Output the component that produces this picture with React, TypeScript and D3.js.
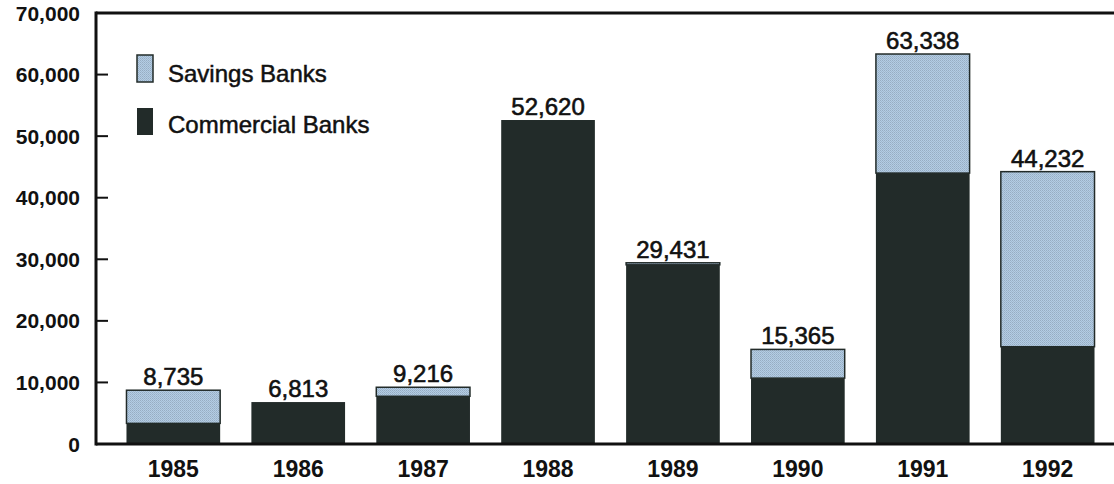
import React from "react";
import * as d3 from "d3";

const years = ["1985", "1986", "1987", "1988", "1989", "1990", "1991", "1992"];
const totals = [8735, 6813, 9216, 52620, 29431, 15365, 63338, 44232];
const commercial = [3350, 6813, 7750, 52620, 29100, 10700, 44000, 15800];
const yTicks = [0, 10000, 20000, 30000, 40000, 50000, 60000, 70000];
const seriesNames = ["Savings Banks", "Commercial Banks"];

const W = 1114;
const H = 484;
const DARK = "#222b29";
const FONT = "'Liberation Sans', Arial, Helvetica, sans-serif";

export default function App() {
  const left = 96;
  const right = 1114;
  const top = 13;
  const bottom = 444;
  const x = d3
    .scaleBand<string>()
    .domain(years)
    .range([left, right])
    .paddingInner(0.25)
    .paddingOuter(0.2)
    .align(0.61);
  const y = d3.scaleLinear().domain([0, 70000]).range([bottom, top]);
  const fmt = d3.format(",");

  return (
    <svg
      width={W}
      height={H}
      style={{ position: "absolute", left: 0, top: 0, display: "block", background: "#fff" }}
      fontFamily={FONT}
    >
      <defs>
        <pattern id="dots" width="2" height="2" patternUnits="userSpaceOnUse">
          <rect width="2" height="2" fill="#b2cde6" />
          <rect x="0" y="0" width="1" height="1" fill="#98adc2" />
          <rect x="1" y="1" width="1" height="1" fill="#a3b8cc" />
        </pattern>
      </defs>

      {/* bars */}
      {years.map((yr, i) => {
        const bx = x(yr)!;
        const bw = x.bandwidth();
        const c = commercial[i];
        const t = totals[i];
        return (
          <g key={yr}>
            {t > c && (
              <rect
                x={bx}
                y={y(t)}
                width={bw}
                height={y(c) - y(t)}
                fill="url(#dots)"
                stroke={DARK}
                strokeWidth={1.5}
              />
            )}
            <rect x={bx} y={y(c)} width={bw} height={y(0) - y(c)} fill={DARK} />
            <text
              x={bx + bw / 2}
              y={y(t) - 5}
              textAnchor="middle"
              fontSize={24}
              fill="#111"
              stroke="#111"
              strokeWidth={0.6}
            >
              {fmt(t)}
            </text>
            <text
              x={bx + bw / 2}
              y={477}
              textAnchor="middle"
              fontSize={23}
              fontWeight="bold"
              fill="#111"
            >
              {yr}
            </text>
          </g>
        );
      })}

      {/* axes frame */}
      <line x1={left} x2={right} y1={top} y2={top} stroke="#111" strokeWidth={3} />
      <line x1={left} x2={right} y1={bottom} y2={bottom} stroke="#111" strokeWidth={3} />
      <line x1={left} x2={left} y1={top - 1.5} y2={bottom + 1.5} stroke="#111" strokeWidth={3} />

      {yTicks.map((v) => (
        <g key={v}>
          {v > 0 && v < 70000 && (
            <line x1={left} x2={left + 12} y1={y(v)} y2={y(v)} stroke="#111" strokeWidth={2} />
          )}
          <text
            x={80}
            y={y(v)}
            dy="0.36em"
            textAnchor="end"
            fontSize={21}
            fontWeight="bold"
            fill="#111"
          >
            {fmt(v)}
          </text>
        </g>
      ))}

      {/* legend */}
      <rect x={137} y={55} width={16} height={27} fill="url(#dots)" stroke={DARK} strokeWidth={1.5} />
      <text x={168} y={82} fontSize={24} fill="#111" stroke="#111" strokeWidth={0.5}>
        {seriesNames[0]}
      </text>
      <rect x={137} y={108} width={16} height={27} fill={DARK} />
      <text x={168} y={133} fontSize={24} fill="#111" stroke="#111" strokeWidth={0.5}>
        {seriesNames[1]}
      </text>
    </svg>
  );
}
